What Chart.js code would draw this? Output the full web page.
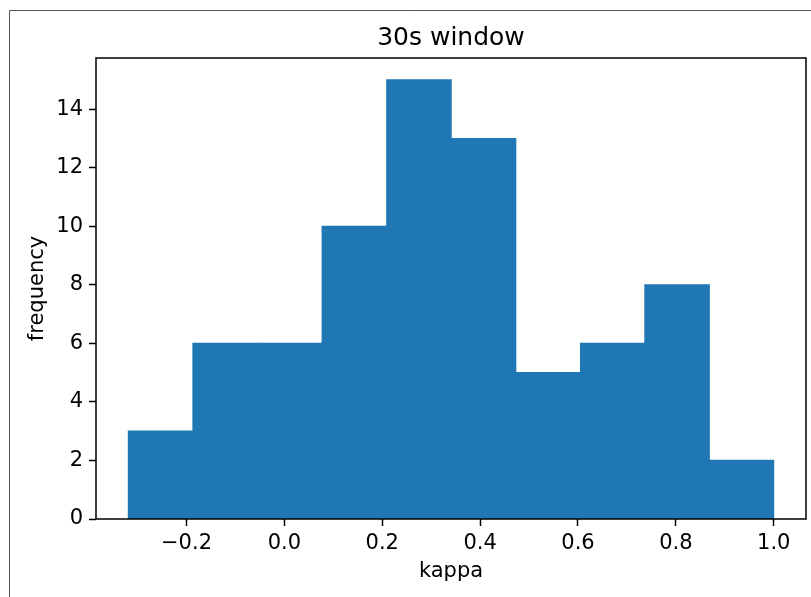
<!DOCTYPE html>
<html>
<head>
<meta charset="utf-8">
<script src="https://cdn.jsdelivr.net/npm/chart.js@4/dist/chart.umd.min.js"></script>
<style>
  html, body { margin: 0; padding: 0; background: #fff; }
  #wrap { width: 811px; height: 597px; }
</style>
</head>
<body>
<div id="wrap"><canvas id="hist" width="811" height="597"></canvas></div>
<script>
        // histogram data
        const binEdges = [-0.319, -0.187, -0.055, 0.077, 0.209, 0.341, 0.473, 0.605, 0.737, 0.868, 1.0];
        const binCounts = [3, 6, 6, 10, 15, 13, 5, 6, 8, 2];
        const xTicks = [-0.2, 0.0, 0.2, 0.4, 0.6, 0.8, 1.0];
        const yTicks = [0, 2, 4, 6, 8, 10, 12, 14];

        const binCenters = binCounts.map((c, i) => (binEdges[i] + binEdges[i + 1]) / 2);
        const points = binCounts.map((c, i) => ({ x: binCenters[i], y: c }));

        // matplotlib style 5% margins
        const lo = binEdges[0], hi = binEdges[binEdges.length - 1];
        const xPad = (hi - lo) * 0.05;
        const yMax = Math.max(...binCounts) * 1.05;

        Chart.defaults.font.family = "'DejaVu Sans', sans-serif";
        Chart.defaults.color = '#000';

        function fmtX(v) {
            if (Math.abs(v) < 1e-9) return '0.0';
            return v.toFixed(1).replace('-', '\u2212');
        }

        // spines on all four sides plus the outer figure frame
        const framePlugin = {
            id: 'frame',
            afterDraw(chart) {
                const ctx = chart.ctx;
                const a = chart.chartArea;
                ctx.save();
                ctx.strokeStyle = '#000';
                ctx.lineWidth = 1.5;
                ctx.strokeRect(a.left, a.top, a.right - a.left, a.bottom - a.top);
                ctx.strokeStyle = '#555';
                ctx.lineWidth = 1;
                ctx.beginPath();
                ctx.moveTo(9.5, 597);
                ctx.lineTo(9.5, 10.5);
                ctx.lineTo(811, 10.5);
                ctx.stroke();
                ctx.restore();
            }
        };

        new Chart(document.getElementById('hist').getContext('2d'), {
            type: 'bar',
            data: {
                datasets: [{
                    label: 'frequency',
                    data: points,
                    backgroundColor: '#1f77b4',
                    borderWidth: 0,
                    inflateAmount: 0.6,
                    barPercentage: 1.0,
                    categoryPercentage: 1.0,
                    grouped: false
                }]
            },
            options: {
                responsive: false,
                animation: false,
                devicePixelRatio: 1,
                layout: { padding: { left: 0, right: 5, top: 0, bottom: 0 } },
                plugins: {
                    legend: { display: false },
                    tooltip: { enabled: false },
                    title: {
                        display: true,
                        text: '30s window',
                        fullSize: false,
                        color: '#000',
                        font: { size: 25, weight: 'normal' },
                        padding: { top: 23, bottom: 5 }
                    }
                },
                scales: {
                    x: {
                        type: 'linear',
                        min: lo - xPad,
                        max: hi + xPad,
                        offset: false,
                        border: { display: false },
                        grid: {
                            offset: false,
                            drawOnChartArea: false,
                            tickLength: 7,
                            tickColor: '#000',
                            tickWidth: 1.5
                        },
                        afterBuildTicks(scale) {
                            scale.ticks = xTicks.map(v => ({ value: v }));
                        },
                        afterFit(scale) { scale.height = 78; },
                        ticks: {
                            autoSkip: false,
                            maxRotation: 0,
                            padding: 5,
                            font: { size: 21 },
                            callback: v => fmtX(v)
                        },
                        title: {
                            display: true,
                            text: 'kappa',
                            font: { size: 21 },
                            padding: { top: 0, bottom: 13 }
                        }
                    },
                    y: {
                        min: 0,
                        max: yMax,
                        border: { display: false },
                        grid: {
                            drawOnChartArea: false,
                            tickLength: 7,
                            tickColor: '#000',
                            tickWidth: 1.5
                        },
                        afterBuildTicks(scale) {
                            scale.ticks = yTicks.map(v => ({ value: v }));
                        },
                        afterFit(scale) { scale.width = 96; },
                        ticks: {
                            autoSkip: false,
                            padding: 6,
                            font: { size: 21 },
                            callback: v => String(v)
                        },
                        title: {
                            display: true,
                            text: 'frequency',
                            font: { size: 21 },
                            padding: { top: 25, bottom: 0 }
                        }
                    }
                }
            },
            plugins: [framePlugin]
        });
</script>
</body>
</html>
